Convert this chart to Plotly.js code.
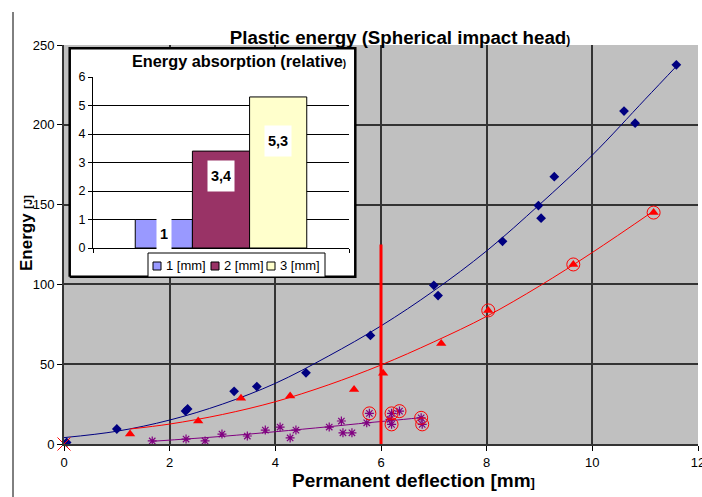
<!DOCTYPE html>
<html>
<head>
<meta charset="utf-8">
<script src="https://cdn.plot.ly/plotly-3.0.1.min.js"></script>
<style>html,body{margin:0;padding:0;background:#fff;}#chart{width:702px;height:497px;}</style>
</head>
<body>
<div id="chart"></div>
<script>
// ---- Data ----
const blueX = [0.05, 1.0, 2.3, 2.34, 3.22, 3.65, 4.58, 5.8, 7.0, 7.08, 8.3, 8.98, 9.03, 9.28, 10.6, 10.81, 11.59];
const blueY = [1, 9.4, 20.6, 22, 33, 36, 44.6, 68, 99.4, 93, 127, 149.4, 141.5, 167.5, 208.6, 201, 237.6];
const blueTrendX = [0, 1, 2, 3, 4, 5, 6, 7, 8, 9, 10, 11, 11.6];
const blueTrendY = [4, 8, 15, 25, 38, 55, 74, 96, 121, 150, 181, 216, 237];

const redX = [1.25, 2.54, 3.35, 4.28, 5.49, 6.04, 7.14, 8.03, 9.64, 11.16];
const redY = [6.2, 14.4, 28.6, 30, 34.2, 44.4, 63, 83.7, 112.5, 145];
const redTrendX = [1.25, 2, 3, 4, 5, 6, 7, 8, 9, 10, 11.16];
const redTrendY = [9.4, 12.5, 18.5, 26.5, 37, 49.5, 64, 80, 99, 120, 146];

const purpleX = [1.67, 2.31, 2.67, 2.99, 3.47, 3.81, 4.09, 4.28, 4.39, 5.02, 5.25, 5.28, 5.45, 5.73, 5.78, 6.20, 6.17, 6.20, 6.35, 6.76, 6.78];
const purpleY = [1.9, 3.1, 1.9, 6.2, 5, 8.7, 10.6, 3.8, 8.7, 10.6, 14.4, 7, 7, 13.3, 19.2, 19.2, 15.4, 12.3, 20.6, 16.4, 12.3];
const purpleTrendX = [1.67, 3, 4, 5, 5.75, 6.2, 6.76];
const purpleTrendY = [1.7, 4.8, 7.7, 10.8, 13.3, 14.7, 16.5];

const circledX = [8.03, 9.64, 11.16, 5.78, 6.20, 6.35, 6.20, 6.76, 6.78];
const circledY = [83.7, 112.5, 145, 19.2, 19.2, 20.6, 12.3, 16.4, 12.3];

const originX = [0];
const originY = [0];

const limitX = [6, 6];
const limitY = [0, 125];

const xTicks = [0, 2, 4, 6, 8, 10, 12];
const yTicks = [0, 50, 100, 150, 200, 250];

const barCats = ['1 [mm]', '2 [mm]', '3 [mm]'];
const barVals = [1, 3.4, 5.3];
const barColors = ['#9999FF', '#993366', '#FFFFCC'];
const insetTicks = [0, 1, 2, 3, 4, 5, 6];

// ---- Geometry helpers (pixel -> paper of main plot) ----
const L = 64, R = 698, T = 45, B = 444;
const px = x => (x - L) / (R - L);
const py = y => (B - y) / (B - T);
const FONT = 'Liberation Sans, Arial, sans-serif';

const traces = [];
traces.push({x: blueTrendX, y: blueTrendY, mode: 'lines', line: {color: '#000080', width: 1, shape: 'spline'}, hoverinfo: 'skip', showlegend: false});
traces.push({x: redTrendX, y: redTrendY, mode: 'lines', line: {color: '#FF0000', width: 1, shape: 'spline'}, hoverinfo: 'skip', showlegend: false});
traces.push({x: purpleTrendX, y: purpleTrendY, mode: 'lines', line: {color: '#800080', width: 1, shape: 'spline'}, hoverinfo: 'skip', showlegend: false});
traces.push({x: limitX, y: limitY, mode: 'lines', line: {color: '#FF0000', width: 3}, showlegend: false});
traces.push({x: purpleX, y: purpleY, mode: 'markers', cliponaxis: false, marker: {symbol: 'asterisk-open', size: 7.5, line: {color: '#800080', width: 1.2}, color: '#800080'}, showlegend: false});
traces.push({x: redX, y: redY, mode: 'markers', cliponaxis: false, marker: {symbol: 'triangle-up', size: 9, color: '#FF0000'}, showlegend: false});
traces.push({x: blueX, y: blueY, mode: 'markers', cliponaxis: false, marker: {symbol: 'diamond', size: 7.5, color: '#000080'}, showlegend: false});
traces.push({x: circledX, y: circledY, mode: 'markers', cliponaxis: false, marker: {symbol: 'circle-open', size: 13, line: {color: '#FF0000', width: 1}, color: '#FF0000'}, showlegend: false});
traces.push({x: originX, y: originY, mode: 'markers', cliponaxis: false, marker: {symbol: 'x-thin-open', size: 13, line: {color: '#FF0000', width: 1}, color: '#FF0000'}, showlegend: false});

// inset white panel (own subplot so it covers the main grid)
traces.push({x: [0, 1, 1, 0, 0], y: [0, 0, 1, 1, 0], xaxis: 'x2', yaxis: 'y2', mode: 'lines', fill: 'toself', fillcolor: '#FFFFFF', line: {color: '#000000', width: 2.5}, hoverinfo: 'skip', showlegend: false});

// inset bars
barCats.forEach((c, i) => {
  traces.push({type: 'bar', x: ['E'], y: [barVals[i]], name: c, xaxis: 'x3', yaxis: 'y3', marker: {color: barColors[i], line: {color: '#000000', width: 1}}, hoverinfo: 'skip', showlegend: false});
});

const bargap = 0.33;
const bw = (1 - bargap) / barVals.length;
const labelYs = [0.49, 2.53, 3.75];

const annotations = [];
barVals.forEach((v, i) => {
  annotations.push({xref: 'x3', yref: 'y3', x: (i - 1) * bw, y: labelYs[i], text: '<b>' + String(v).replace('.', ',') + '</b>', showarrow: false, bgcolor: '#FFFFFF', borderpad: 3, height: 24, font: {family: FONT, size: 14.5, color: '#000'}, xanchor: 'center', yanchor: 'middle'});
});
annotations.push({xref: 'paper', yref: 'paper', x: px(413), y: py(480), text: '<b>Permanent deflection [mm<span style="font-size:13px">]</span></b>', showarrow: false, font: {family: FONT, size: 19, color: '#000'}, xanchor: 'center', yanchor: 'middle'});
annotations.push({xref: 'paper', yref: 'paper', x: px(26), y: py(233), text: '<b>Energy <span style="font-size:11px">[J]</span></b>', textangle: -90, showarrow: false, font: {family: FONT, size: 17, color: '#000'}, xanchor: 'center', yanchor: 'middle'});
annotations.push({xref: 'paper', yref: 'paper', x: px(239), y: py(61), text: '<b>Energy absorption (relative<span style="font-size:10px">)</span></b>', showarrow: false, font: {family: FONT, size: 16.3, color: '#000'}, xanchor: 'center', yanchor: 'middle'});

const shapes = [];
shapes.push({type: 'rect', xref: 'paper', yref: 'paper', layer: 'below', x0: 0, x1: 1, y0: 0, y1: 1, fillcolor: '#C0C0C0', line: {width: 0}});
shapes.push({type: 'line', xref: 'paper', yref: 'paper', layer: 'above', x0: px(13), x1: px(13), y0: py(497), y1: py(12), line: {color: '#000', width: 1}});
shapes.push({type: 'rect', xref: 'paper', yref: 'paper', layer: 'above', x0: px(148), x1: px(325), y0: py(277), y1: py(253), fillcolor: '#FFFFFF', line: {color: '#000', width: 1}});
const legSq = [153, 211, 267];
const legTx = [164, 222, 278];
barCats.forEach((c, i) => {
  shapes.push({type: 'rect', xref: 'paper', yref: 'paper', layer: 'above', x0: px(legSq[i]), x1: px(legSq[i] + 8), y0: py(270), y1: py(262), fillcolor: barColors[i], line: {color: '#000', width: 1}});
  annotations.push({xref: 'paper', yref: 'paper', x: px(legTx[i]), y: py(265.5), text: c, showarrow: false, font: {family: FONT, size: 13, color: '#000'}, xanchor: 'left', yanchor: 'middle'});
});

const axisCommon = {showgrid: true, gridcolor: '#333', gridwidth: 2, showline: true, linecolor: '#333', linewidth: 2, ticks: 'outside', ticklen: 5, tickcolor: '#000', tickfont: {family: FONT, size: 13, color: '#000'}, ticklabeloverflow: 'allow', zeroline: false, fixedrange: true};

const layout = {
  width: 702, height: 497,
  margin: {l: L, r: 702 - R, t: T, b: 497 - B, pad: 0},
  paper_bgcolor: '#FFFFFF', plot_bgcolor: 'rgba(0,0,0,0)',
  font: {family: FONT, color: '#000'},
  showlegend: false,
  barmode: 'group', bargap: bargap, bargroupgap: 0,
  title: {text: '<b>Plastic energy (Spherical impact head<span style="font-size:12px">)</span></b>', font: {family: FONT, size: 18.7, color: '#000'}, xref: 'container', x: 400 / 702, xanchor: 'center', yref: 'container', y: 1 - 37 / 497, yanchor: 'middle'},
  xaxis: Object.assign({}, axisCommon, {range: [0, 12], tickvals: xTicks, ticktext: xTicks.map(String)}),
  yaxis: Object.assign({}, axisCommon, {range: [0, 250], tickvals: yTicks, ticktext: yTicks.map(String)}),
  xaxis2: {domain: [px(68), px(357)], range: [-0.006, 1.006], visible: false, fixedrange: true, anchor: 'y2'},
  yaxis2: {domain: [py(278), py(47)], range: [-0.006, 1.006], visible: false, fixedrange: true, anchor: 'x2'},
  xaxis3: {domain: [px(93), px(349)], type: 'category', range: [-0.5, 0.5], showticklabels: false, showline: true, linecolor: '#000', linewidth: 1, ticks: 'outside', tickson: 'boundaries', ticklen: 4, tickcolor: '#000', showgrid: false, zeroline: false, fixedrange: true, anchor: 'y3'},
  yaxis3: {domain: [py(248), py(77)], range: [0, 6], tickvals: insetTicks, ticktext: insetTicks.map(String), showline: true, linecolor: '#000', linewidth: 1, ticks: 'outside', ticklen: 4, tickcolor: '#000', showgrid: true, gridcolor: '#000', gridwidth: 1, zeroline: false, tickfont: {family: FONT, size: 12.5, color: '#000'}, fixedrange: true, anchor: 'x3'},
  shapes: shapes,
  annotations: annotations
};

Plotly.newPlot('chart', traces, layout, {displayModeBar: false, staticPlot: true});
</script>
</body>
</html>
